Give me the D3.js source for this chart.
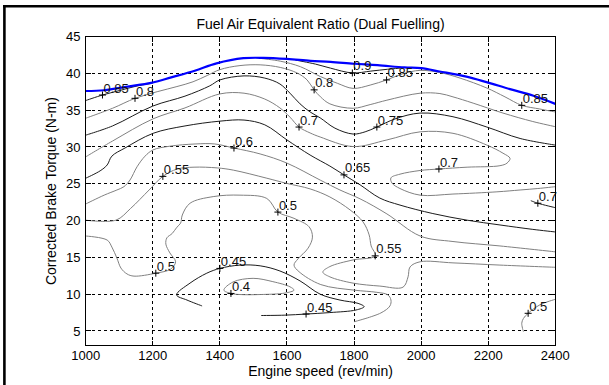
<!DOCTYPE html>
<html>
<head>
<meta charset="utf-8">
<script src="https://cdn.jsdelivr.net/npm/d3@7"></script>
<style>
  html, body { margin: 0; padding: 0; background: #fff; }
  svg { display: block; }
  text { font-family: "Liberation Sans", Arial, sans-serif; }
</style>
</head>
<body>
<svg id="chart" width="609" height="385"></svg>
<script>
// Axis ticks
const speedTicks = [1000, 1200, 1400, 1600, 1800, 2000, 2200, 2400];
const torqueTicks = [5, 10, 15, 20, 25, 30, 35, 40, 45];

// Maximum torque curve [speed rev/min, torque N-m]
const maxTorqueCurve = [[1000,37.6],[1055,37.7],[1125,38.2],[1195,38.7],[1255,39.45],[1325,40.35],[1390,41.35],[1470,42.05],[1530,42.1],[1600,41.95],[1670,41.7],[1730,41.55],[1800,41.3],[1870,41.1],[1950,40.8],[2000,40.7],[2055,40.25],[2135,39.55],[2195,38.8],[2265,37.85],[2335,36.95],[2400,35.85]];

// Iso-lines of the fuel air equivalence ratio [speed, torque]
const phi090 = [[1625,41.8],[1685,41.25],[1730,40.7],[1795,40.05],[1850,40.3],[1900,40.55],[1950,40.75]];
const phi085West = [[1000,36.3],[1050,37.05],[1100,37.65],[1155,38.3],[1200,38.65]];
const phi085East = [[1525,42.0],[1580,41.65],[1640,40.9],[1700,39.55],[1750,38.65],[1797,37.95],[1848,38.4],[1897,39.1],[1946,39.95],[1997,40.4],[2056,40.1],[2116,39.35],[2196,38.0],[2250,36.8],[2300,35.65],[2354,35.15],[2400,34.75]];
const phi080 = [[1000,33.9],[1080,35.25],[1147,36.6],[1213,37.5],[1272,38.2],[1320,38.85],[1362,39.7],[1400,40.5],[1460,41.05],[1520,41.15],[1580,40.8],[1630,40.05],[1660,39.1],[1681,37.75],[1700,36.8],[1728,35.85],[1797,35.25],[1848,35.75],[1898,36.35],[1997,37.3],[2056,37.25],[2095,36.8],[2155,35.95],[2244,34.6],[2333,33.45],[2400,32.75]];
const phi075 = [[1000,31.6],[1080,32.85],[1200,35.55],[1296,36.9],[1370,38.3],[1400,39.1],[1472,39.65],[1534,39.35],[1579,38.55],[1609,37.3],[1639,35.85],[1669,34.75],[1699,33.95],[1743,32.55],[1797,31.75],[1833,32.05],[1868,32.7],[1922,33.8],[1997,34.6],[2095,34.1],[2196,32.7],[2295,31.15],[2400,30.25]];
const phi070 = [[1000,28.65],[1080,30.8],[1200,33.8],[1296,35.3],[1400,37.2],[1472,37.3],[1534,36.5],[1579,35.3],[1609,34.05],[1636,32.7],[1669,31.9],[1699,31.35],[1797,30.05],[1898,30.95],[1997,32.05],[2095,31.85],[2196,30.25],[2244,29.15],[2265,28.45],[2256,27.8],[2235,27.45],[2137,27.25],[2053,27.0],[1997,26.8],[1937,26.3],[1910,25.8],[1913,25.1],[1937,24.35],[1997,23.45],[2095,23.6],[2226,23.9],[2295,24.15],[2348,24.35],[2400,24.6]];
const phi070Edge = [[2327,22.7],[2348,22.35],[2400,21.75]];
const phi065 = [[1000,25.75],[1043,26.75],[1064,27.55],[1078,28.75],[1117,29.85],[1201,31.85],[1296,32.85],[1400,33.5],[1472,33.65],[1534,33.0],[1600,30.95],[1669,28.9],[1728,27.4],[1770,26.2],[1818,24.85],[1877,23.05],[1937,22.1],[2035,20.95],[2137,20.05],[2235,19.4],[2333,18.8],[2400,18.45]];
const phi060 = [[1000,22.25],[1055,23.45],[1093,24.15],[1114,24.6],[1132,25.5],[1153,27.3],[1177,28.75],[1201,29.6],[1251,30.1],[1326,30.4],[1385,30.4],[1442,29.85],[1520,29.05],[1600,27.8],[1699,25.5],[1758,24.15],[1818,22.95],[1898,20.9],[1997,17.9],[2095,17.15],[2235,16.55],[2400,15.75]];
const phi055 = [[1000,20.05],[1090,20.05],[1134,21.65],[1189,24.15],[1230,26.0],[1273,27.0],[1323,27.25],[1392,27.15],[1440,26.85],[1540,25.75],[1599,25.05],[1669,24.3],[1728,23.2],[1788,21.45],[1827,19.8],[1845,18.05],[1851,16.55],[1863,15.2],[1797,14.65],[1728,13.75],[1707,13.0],[1728,12.35],[1797,11.5],[1877,11.1],[1946,10.95],[1961,12.35],[1967,13.7],[1997,14.4],[2095,14.25],[2235,13.95],[2400,13.65]];
const phi050West = [[1000,17.9],[1064,17.35],[1078,16.4],[1093,14.9],[1105,13.55],[1123,12.75],[1144,12.45],[1209,12.85],[1253,13.4],[1268,14.4],[1251,15.6],[1239,16.8],[1242,17.65],[1258,18.25],[1272,19.1],[1283,19.65],[1288,20.75],[1311,22.35],[1380,23.25],[1460,23.45],[1540,23.0],[1573,21.15],[1621,20.3],[1666,19.15],[1676,17.75],[1663,16.25],[1633,14.8],[1621,13.95],[1636,13.05],[1701,11.3],[1800,10.55],[1868,10.25],[1901,9.9],[1910,9.2],[1907,8.4],[1880,7.45],[1800,6.25]];
const phi050East = [[2305,4.9],[2300,6.05],[2305,6.7],[2319,7.4],[2354,8.55],[2400,9.3]];
const phi045 = [[1347,8.4],[1302,9.2],[1271,9.9],[1311,11.5],[1361,12.85],[1400,13.5],[1460,13.95],[1520,13.85],[1579,13.15],[1639,11.8],[1699,10.0],[1758,9.2],[1812,8.75],[1830,8.3],[1806,7.85],[1728,7.5],[1657,7.3],[1594,7.15],[1523,7.1]];
const phi040 = [[1412,10.55],[1439,11.65],[1499,12.15],[1558,11.7],[1609,11.0],[1621,10.55],[1594,10.15],[1520,9.95],[1460,9.95],[1433,10.1]];

// Contour labels: level, anchor speed, anchor torque
const labelLevels = [0.85, 0.8, 0.9, 0.85, 0.8, 0.85, 0.7, 0.75, 0.6, 0.55, 0.65, 0.7, 0.7, 0.5, 0.55, 0.5, 0.45, 0.4, 0.45, 0.5];
const labelSpeed  = [1050, 1147, 1795, 1897, 1681, 2300, 1636, 1868, 1442, 1230, 1770, 2053, 2348, 1573, 1863, 1209, 1400, 1433, 1657, 2319];
const labelTorque = [37.05, 36.6, 40.05, 39.1, 37.75, 35.65, 32.7, 32.7, 29.85, 26.0, 26.2, 27.0, 22.35, 21.15, 15.2, 12.85, 13.5, 10.1, 7.3, 7.4];

// Contour list and line tones
const contours = [
  { pts: phi090, tone: "dark" },
  { pts: phi085West, tone: "dark" },
  { pts: phi085East, tone: "gray" },
  { pts: phi080, tone: "gray" },
  { pts: phi075, tone: "dark" },
  { pts: phi070, tone: "gray" },
  { pts: phi070Edge, tone: "dark" },
  { pts: phi065, tone: "dark" },
  { pts: phi060, tone: "gray" },
  { pts: phi055, tone: "gray" },
  { pts: phi050West, tone: "gray" },
  { pts: phi050East, tone: "gray" },
  { pts: phi045, tone: "dark" },
  { pts: phi040, tone: "gray", closed: true }
];
const toneColor = { dark: "#1c1c1c", gray: "#808080" };

const svg = d3.select("#chart");
const box = { left: 85.7, right: 555.3, top: 36.5, bottom: 345.7 };

const x = d3.scaleLinear().domain([1000, 2400]).range([box.left, box.right]);
const y = d3.scaleLinear().domain([3, 45]).range([box.bottom, box.top]);

// Figure frame (top and left edges)
svg.append("line").attr("x1", 3).attr("x2", 609).attr("y1", 6.2).attr("y2", 6.2)
  .attr("stroke", "#000").attr("stroke-width", 2.4);
svg.append("line").attr("x1", 4.4).attr("x2", 4.4).attr("y1", 5).attr("y2", 385)
  .attr("stroke", "#000").attr("stroke-width", 2.6);

// Title
svg.append("text").attr("x", (box.left + box.right) / 2).attr("y", 28.5)
  .attr("text-anchor", "middle").attr("font-size", 14).attr("fill", "#000")
  .text("Fuel Air Equivalent Ratio (Dual Fuelling)");

// Grid
const grid = svg.append("g").attr("shape-rendering", "crispEdges")
  .attr("stroke", "#000").attr("stroke-width", 1).attr("stroke-dasharray", "3,3");
grid.selectAll(".gx").data(speedTicks.slice(1, -1)).join("line")
  .attr("x1", d => x(d)).attr("x2", d => x(d)).attr("y1", box.bottom).attr("y2", box.top);
grid.selectAll(".gy").data(torqueTicks.slice(0, -1)).join("line")
  .attr("x1", box.left).attr("x2", box.right).attr("y1", d => y(d)).attr("y2", d => y(d));

// Contour lines
const clip = svg.append("clipPath").attr("id", "plotClip").append("rect")
  .attr("x", box.left).attr("y", box.top)
  .attr("width", box.right - box.left).attr("height", box.bottom - box.top);

const lineGen = d3.line().x(d => x(d[0])).y(d => y(d[1])).curve(d3.curveCatmullRom.alpha(0.5));
const loopGen = d3.line().x(d => x(d[0])).y(d => y(d[1])).curve(d3.curveCatmullRomClosed.alpha(0.5));

const lines = svg.append("g").attr("clip-path", "url(#plotClip)").attr("fill", "none");
lines.selectAll("path.iso").data(contours).join("path")
  .attr("class", "iso")
  .attr("d", d => d.closed ? loopGen(d.pts) : lineGen(d.pts))
  .attr("stroke", d => toneColor[d.tone])
  .attr("stroke-width", 1);

// Maximum torque curve
lines.append("path").attr("d", lineGen(maxTorqueCurve))
  .attr("stroke", "#0000ff").attr("stroke-width", 2.2);

// Contour labels with + markers
const labels = svg.append("g");
labelLevels.forEach((lv, i) => {
  const px = x(labelSpeed[i]), py = y(labelTorque[i]);
  labels.append("path")
    .attr("d", `M${px - 3.5},${py}H${px + 3.5}M${px},${py - 3.5}V${py + 3.5}`)
    .attr("stroke", "#000").attr("stroke-width", 1).attr("fill", "none");
  labels.append("text").attr("x", px + 1).attr("y", py - 2.5)
    .attr("font-size", 13).attr("fill", "#111")
    .text(String(lv));
});

// Axes box and inward ticks
const axes = svg.append("g").attr("shape-rendering", "crispEdges").attr("stroke", "#000");
axes.append("rect").attr("x", box.left).attr("y", box.top)
  .attr("width", box.right - box.left).attr("height", box.bottom - box.top)
  .attr("fill", "none").attr("stroke-width", 1);
speedTicks.forEach(v => {
  axes.append("line").attr("x1", x(v)).attr("x2", x(v)).attr("y1", box.bottom).attr("y2", box.bottom - 5);
  axes.append("line").attr("x1", x(v)).attr("x2", x(v)).attr("y1", box.top).attr("y2", box.top + 5);
});
torqueTicks.forEach(v => {
  axes.append("line").attr("x1", box.left).attr("x2", box.left + 5).attr("y1", y(v)).attr("y2", y(v));
  axes.append("line").attr("x1", box.right).attr("x2", box.right - 5).attr("y1", y(v)).attr("y2", y(v));
});

// Tick labels
svg.append("g").selectAll("text").data(speedTicks).join("text")
  .attr("x", d => x(d)).attr("y", 359.5).attr("text-anchor", "middle")
  .attr("font-size", 13).attr("fill", "#000").text(d => d);
svg.append("g").selectAll("text").data(torqueTicks).join("text")
  .attr("x", 80.5).attr("y", d => y(d) + 4.6).attr("text-anchor", "end")
  .attr("font-size", 13).attr("fill", "#000").text(d => d);

// Axis titles
svg.append("text").attr("x", (box.left + box.right) / 2).attr("y", 375.5)
  .attr("text-anchor", "middle").attr("font-size", 14).attr("fill", "#000")
  .text("Engine speed (rev/min)");
svg.append("text")
  .attr("transform", `translate(56,${(box.top + box.bottom) / 2}) rotate(-90)`)
  .attr("text-anchor", "middle").attr("font-size", 14).attr("fill", "#000")
  .text("Corrected Brake Torque (N-m)");
</script>
</body>
</html>
